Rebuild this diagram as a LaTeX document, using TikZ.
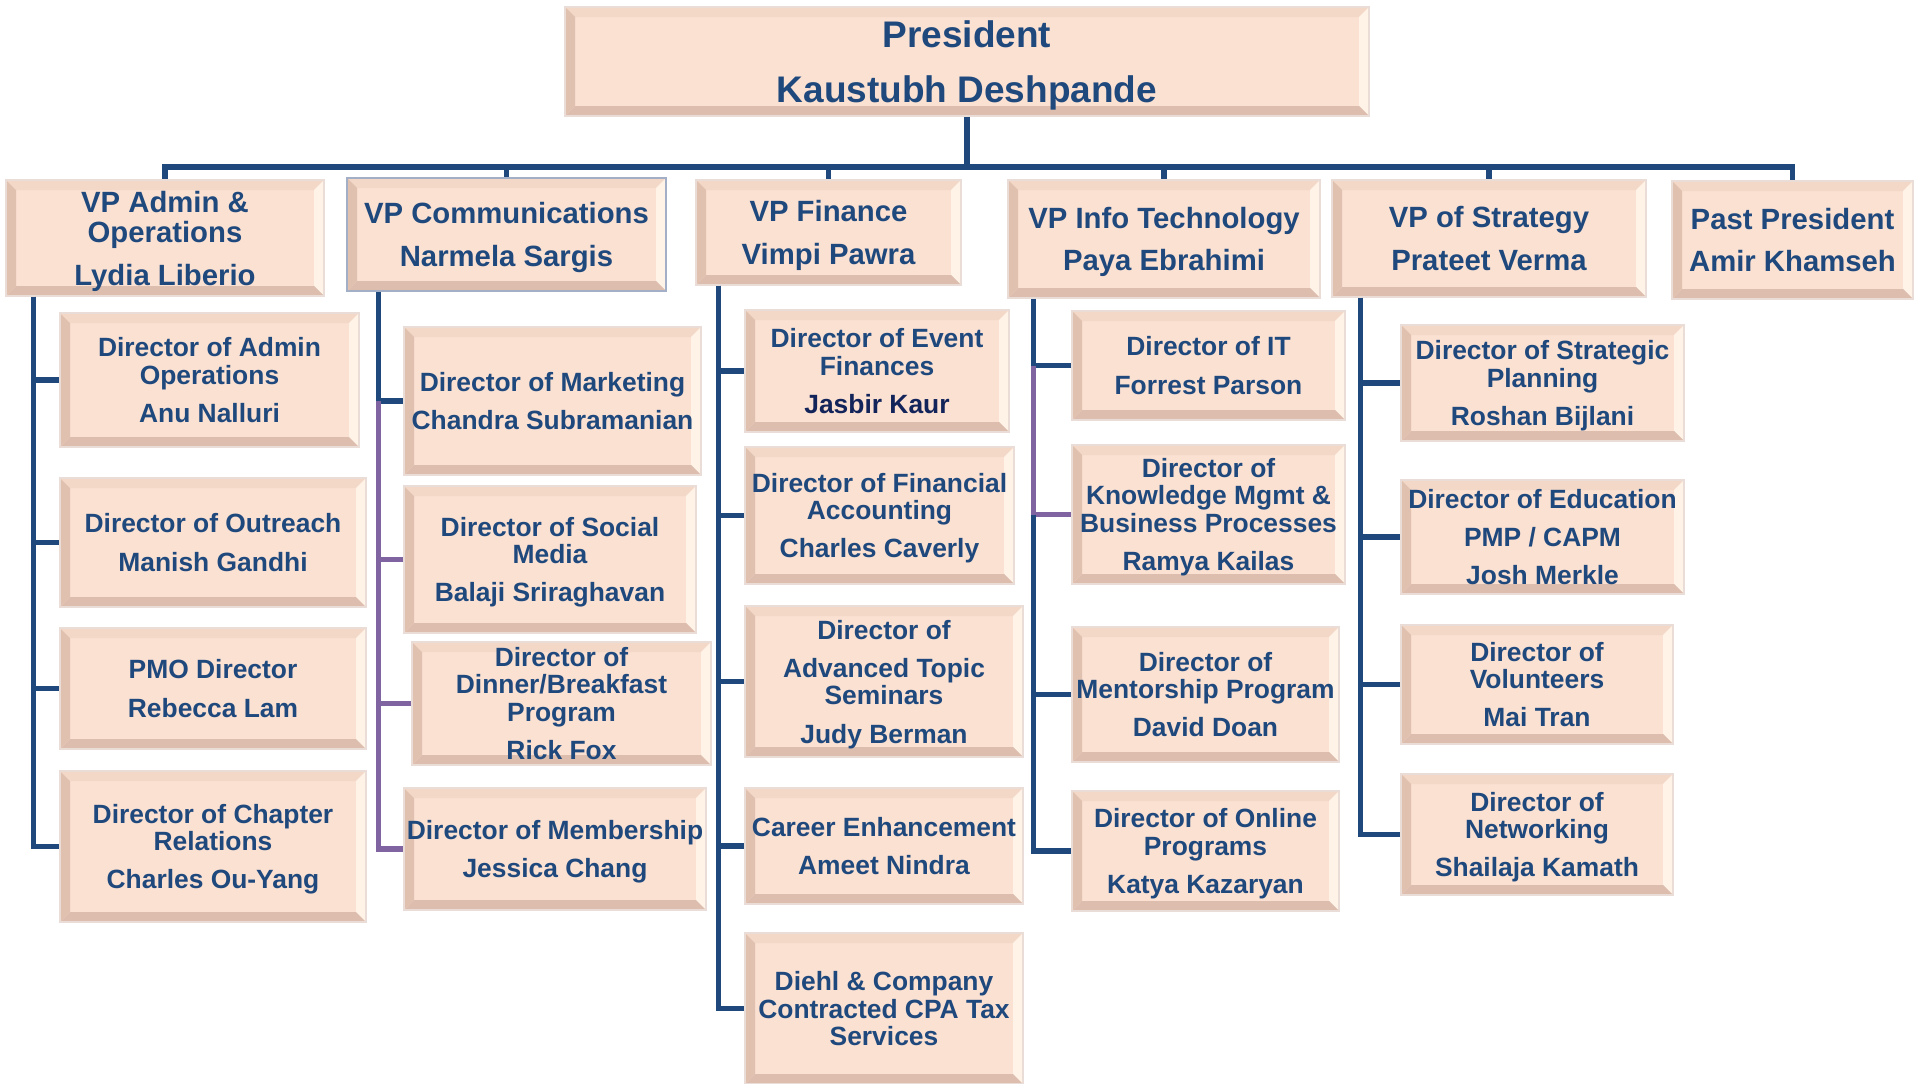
\documentclass[tikz,border=0pt]{standalone}
\usepackage{fontspec}
\setmainfont{Liberation Sans}
\usepackage{tikz}

\definecolor{navy}{HTML}{1F497D}
\definecolor{deepnavy}{HTML}{13245A}
\definecolor{linkblue}{HTML}{1F497D}
\definecolor{linkpurple}{HTML}{8064A2}
\definecolor{face}{HTML}{FBE1D2}
\definecolor{rim}{HTML}{EADCD6}
\definecolor{bevtop}{HTML}{F3D8C8}
\definecolor{bevleft}{HTML}{E0C1B0}
\definecolor{bevbot}{HTML}{DDBEAE}
\definecolor{bevright}{HTML}{FFF3E8}
\definecolor{selrim}{HTML}{A3AFC6}

\newcommand{\bevw}{10pt}
\newcommand{\ppb}{path picture bounding box}

\begin{document}
\begin{tikzpicture}[x=1pt, y=-1pt,
    link/.style={draw=linkblue, line width=5.5pt},
    linkp/.style={draw=linkpurple, line width=5.5pt},
    bevel/.style={path picture={
        \fill[bevtop] (\ppb.north west) -- (\ppb.north east) -- ([shift={(-\bevw,-\bevw)}]\ppb.north east) -- ([shift={(\bevw,-\bevw)}]\ppb.north west) -- cycle;
        \fill[bevright] (\ppb.north east) -- (\ppb.south east) -- ([shift={(-\bevw,\bevw)}]\ppb.south east) -- ([shift={(-\bevw,-\bevw)}]\ppb.north east) -- cycle;
        \fill[bevbot] (\ppb.south east) -- (\ppb.south west) -- ([shift={(\bevw,\bevw)}]\ppb.south west) -- ([shift={(-\bevw,\bevw)}]\ppb.south east) -- cycle;
        \fill[bevleft] (\ppb.south west) -- (\ppb.north west) -- ([shift={(\bevw,-\bevw)}]\ppb.north west) -- ([shift={(\bevw,\bevw)}]\ppb.south west) -- cycle;
    }},
    role/.style={fill=face, draw=rim, line width=1.5pt, bevel, inner sep=0pt, text depth=0pt, align=center, text=navy,
        font=\bfseries\fontsize{26.4}{27.3}\selectfont},
    vp/.style={role, font=\bfseries\fontsize{29.3}{30.5}\selectfont},
    top/.style={role, font=\bfseries\fontsize{37}{40}\selectfont}]

    \useasboundingbox (0,0) rectangle (1915,1084);

    \node[top, minimum width=804pt, minimum height=109pt] (pres) at (967, 61.5) {President\\[15pt]Kaustubh Deshpande};

    \node[vp, minimum width=318pt, minimum height=116pt] (vpadm) at (165, 238) {VP Admin \&\\Operations\\[12pt]Lydia Liberio};
    \node[vp, draw=selrim, minimum width=319pt, minimum height=113pt] (vpcom) at (506.5, 234.5) {VP Communications\\[12pt]Narmela Sargis};
    \node[vp, minimum width=265pt, minimum height=105pt] (vpfin) at (828.5, 232.5) {VP Finance\\[12pt]Vimpi Pawra};
    \node[vp, minimum width=312pt, minimum height=118pt] (vpit) at (1164, 239) {VP Info Technology\\[12pt]Paya Ebrahimi};
    \node[vp, minimum width=314pt, minimum height=117pt] (vpstr) at (1489, 238.5) {VP of Strategy\\[12pt]Prateet Verma};
    \node[vp, minimum width=241pt, minimum height=118pt] (vppast) at (1792.5, 240) {Past President\\[12pt]Amir Khamseh};

    % admin & operations
    \node[role, minimum width=299pt, minimum height=134pt] (dadm) at (209.5, 380) {Director of Admin\\Operations\\[11pt]Anu Nalluri};
    \node[role, minimum width=306pt, minimum height=129pt] (dout) at (213, 542.5) {Director of Outreach\\[11pt]Manish Gandhi};
    \node[role, minimum width=306pt, minimum height=121pt] (dpmo) at (213, 688.5) {PMO Director\\[11pt]Rebecca Lam};
    \node[role, minimum width=306pt, minimum height=151pt] (dchap) at (213, 846.5) {Director of Chapter\\Relations\\[11pt]Charles Ou-Yang};

    % communications
    \node[role, minimum width=297pt, minimum height=148pt] (dmkt) at (552.5, 401) {Director of Marketing\\[11pt]Chandra Subramanian};
    \node[role, minimum width=292pt, minimum height=147pt] (dsoc) at (550, 559.5) {Director of Social\\Media\\[11pt]Balaji Sriraghavan};
    \node[role, minimum width=299pt, minimum height=123pt] (ddin) at (561.5, 703.5) {Director of\\Dinner/Breakfast\\Program\\[11pt]Rick Fox};
    \node[role, minimum width=302pt, minimum height=122pt] (dmem) at (555, 849) {Director of Membership\\[11pt]Jessica Chang};

    % finance
    \node[role, minimum width=264pt, minimum height=122pt] (devt) at (877, 371) {Director of Event\\Finances\\[11pt]\textcolor{deepnavy}{Jasbir Kaur}};
    \node[role, minimum width=269pt, minimum height=137pt] (dacc) at (879.5, 515.5) {Director of Financial\\Accounting\\[11pt]Charles Caverly};
    \node[role, minimum width=278pt, minimum height=151pt] (dadv) at (884, 681.5) {Director of\\[11pt]Advanced Topic\\Seminars\\[11pt]Judy Berman};
    \node[role, minimum width=278pt, minimum height=116pt] (dcar) at (884, 846) {Career Enhancement\\[11pt]Ameet Nindra};
    \node[role, minimum width=278pt, minimum height=151pt] (ddiehl) at (884, 1008.5) {Diehl \& Company\\Contracted CPA Tax\\Services};

    % info technology
    \node[role, minimum width=273pt, minimum height=109pt] (dit) at (1208.5, 365.5) {Director of IT\\[11pt]Forrest Parson};
    \node[role, minimum width=273pt, minimum height=139pt] (dknow) at (1208.5, 514.5) {Director of\\Knowledge Mgmt \&\\Business Processes\\[11pt]Ramya Kailas};
    \node[role, minimum width=267pt, minimum height=135pt] (dment) at (1205.5, 694.5) {Director of\\Mentorship Program\\[11pt]David Doan};
    \node[role, minimum width=267pt, minimum height=120pt] (donl) at (1205.5, 851) {Director of Online\\Programs\\[11pt]Katya Kazaryan};

    % strategy
    \node[role, minimum width=283pt, minimum height=116pt] (dstr) at (1542.5, 383) {Director of Strategic\\Planning\\[11pt]Roshan Bijlani};
    \node[role, minimum width=283pt, minimum height=114pt] (dedu) at (1542.5, 537) {Director of Education\\[11pt]PMP / CAPM\\[11pt]Josh Merkle};
    \node[role, minimum width=272pt, minimum height=119pt] (dvol) at (1537, 684.5) {Director of\\Volunteers\\[11pt]Mai Tran};
    \node[role, minimum width=272pt, minimum height=121pt] (dnet) at (1537, 834.5) {Director of\\Networking\\[11pt]Shailaja Kamath};

    \coordinate (bus) at (0, 167);
    \draw[link] (pres.south) -- (pres.south |- bus);
    \draw[link] (pres.south |- bus) -| (vpadm.north);
    \draw[link] (pres.south |- bus) -| (vpcom.north);
    \draw[link] (pres.south |- bus) -| (vpfin.north);
    \draw[link] (pres.south |- bus) -| (vpit.north);
    \draw[link] (pres.south |- bus) -| (vpstr.north);
    \draw[link] (pres.south |- bus) -| (vppast.north);

    \coordinate (admtop) at ([xshift=28pt]vpadm.south west);
    \draw[link] (admtop) |- (dadm.west);
    \draw[link] (admtop) |- (dout.west);
    \draw[link] (admtop) |- (dpmo.west);
    \draw[link] (admtop) |- (dchap.west);

    \coordinate (comtop) at ([xshift=32pt]vpcom.south west);
    \draw[link] (comtop) |- (dmkt.west);
    \draw[linkp] (comtop |- dmkt.west) |- (dsoc.west);
    \draw[linkp] (comtop |- dmkt.west) |- (ddin.west);
    \draw[linkp] (comtop |- dmkt.west) |- (dmem.west);

    \coordinate (fintop) at ([xshift=23pt]vpfin.south west);
    \draw[link] (fintop) |- (devt.west);
    \draw[link] (fintop) |- (dacc.west);
    \draw[link] (fintop) |- (dadv.west);
    \draw[link] (fintop) |- (dcar.west);
    \draw[link] (fintop) |- (ddiehl.west);

    \coordinate (ittop) at ([xshift=26pt]vpit.south west);
    \draw[link] (ittop) |- (dit.west);
    \draw[linkp] (ittop |- dit.west) |- (dknow.west);
    \draw[link] (ittop |- dknow.west) |- (dment.west);
    \draw[link] (ittop |- dknow.west) |- (donl.west);

    \coordinate (strtop) at ([xshift=29pt]vpstr.south west);
    \draw[link] (strtop) |- (dstr.west);
    \draw[link] (strtop) |- (dedu.west);
    \draw[link] (strtop) |- (dvol.west);
    \draw[link] (strtop) |- (dnet.west);

\end{tikzpicture}
\end{document}
